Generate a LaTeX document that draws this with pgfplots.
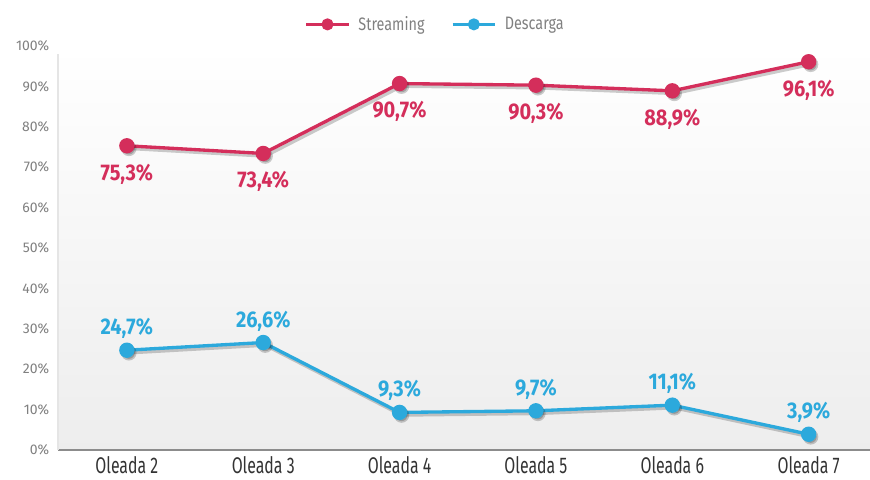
\documentclass[border=0pt]{standalone}
\usepackage{fontspec}
\setmainfont{Fira Sans}[FakeStretch=0.8]
\newfontfamily\catfont{Fira Sans}[FakeStretch=0.7]
\newfontfamily\tickfont{Fira Sans}[FakeStretch=1.0]
\newfontfamily\valfont{Fira Sans}[FakeStretch=0.88]
\usepackage{pgfplots}
\pgfplotsset{compat=1.18}
\definecolor{stream}{HTML}{D42E5B}
\definecolor{desc}{HTML}{2CA9DC}
\definecolor{tickgray}{HTML}{808080}
\begin{document}
\begin{tikzpicture}
\begin{axis}[
    scale only axis,
    width=609pt, height=303pt,
    xmin=-0.505, xmax=5.45,
    ymin=0, ymax=100,
    xtick=data,
    xticklabels={Oleada 2,Oleada 3,Oleada 4,Oleada 5,Oleada 6,Oleada 7},
    ytick={0,10,...,100},
    yticklabel={\pgfmathprintnumber{\tick}\%},
    /pgf/number format/assume math mode=true,
    tick style={draw=none},
    yticklabel style={font=\tickfont\fontsize{10.5}{12}\selectfont, text=tickgray, xshift=-3pt},
    xticklabel style={font=\catfont\fontsize{17}{19}\selectfont, text=black!80, yshift=-1pt},
    axis line style={draw=none},
    axis background/.style={top color=white, bottom color=black!7},
    clip=false,
    legend columns=2,
    legend style={at={(0.465,1)}, anchor=south, yshift=6pt, draw=none, fill=none,
        font=\fontsize{13.5}{15}\selectfont, text=tickgray,
        /tikz/every even column/.append style={column sep=18pt}},
    legend image code/.code={
        \draw[#1, line width=2pt, mark size=3.5pt, mark repeat=2, mark phase=2] plot coordinates {(0pt,0pt) (16pt,0pt) (32pt,0pt)};
        \path (36pt,0pt);},
    nodes near coords={\pgfmathprintnumber[fixed,fixed zerofill,precision=1,use comma]{\pgfplotspointmeta}\%},
    point meta=y,
]
\draw[black!45, line width=1.5pt] (rel axis cs:0,0) -- (rel axis cs:1,0);
\draw[black!10, line width=0.8pt] (rel axis cs:0,0) -- (rel axis cs:0,0.98);
\coordinate (sw) at (rel axis cs:0,0);
\coordinate (ne) at (rel axis cs:1,1);

% shadows
\addplot[black, opacity=0.2, line width=2.5pt, mark=*, mark size=4.5pt, xshift=1.5pt, yshift=-2pt, forget plot, nodes near coords={}]
 coordinates {(0,75.3) (1,73.4) (2,90.7) (3,90.3) (4,88.9) (5,96.1)};
\addplot[black, opacity=0.2, line width=2.5pt, mark=*, mark size=4.5pt, xshift=1.5pt, yshift=-2pt, forget plot, nodes near coords={}]
 coordinates {(0,24.7) (1,26.6) (2,9.3) (3,9.7) (4,11.1) (5,3.9)};

\addplot[stream, line width=2.5pt, mark=*, mark size=4.5pt,
    every node near coord/.style={below, yshift=-9pt, font=\valfont\bfseries\fontsize{17}{19}\selectfont, text=stream}]
 coordinates {(0,75.3) (1,73.4) (2,90.7) (3,90.3) (4,88.9) (5,96.1)};
\addlegendentry{Streaming}
\addplot[desc, line width=2.5pt, mark=*, mark size=4.5pt,
    every node near coord/.style={above, yshift=4pt, font=\valfont\bfseries\fontsize{17}{19}\selectfont, text=desc}]
 coordinates {(0,24.7) (1,26.6) (2,9.3) (3,9.7) (4,11.1) (5,3.9)};
\addlegendentry{Descarga}
\end{axis}
\pgfresetboundingbox
\path ([shift={(-43.5pt,-22.5pt)}]sw) rectangle ([shift={(0pt,34.5pt)}]ne);
\end{tikzpicture}
\end{document}
